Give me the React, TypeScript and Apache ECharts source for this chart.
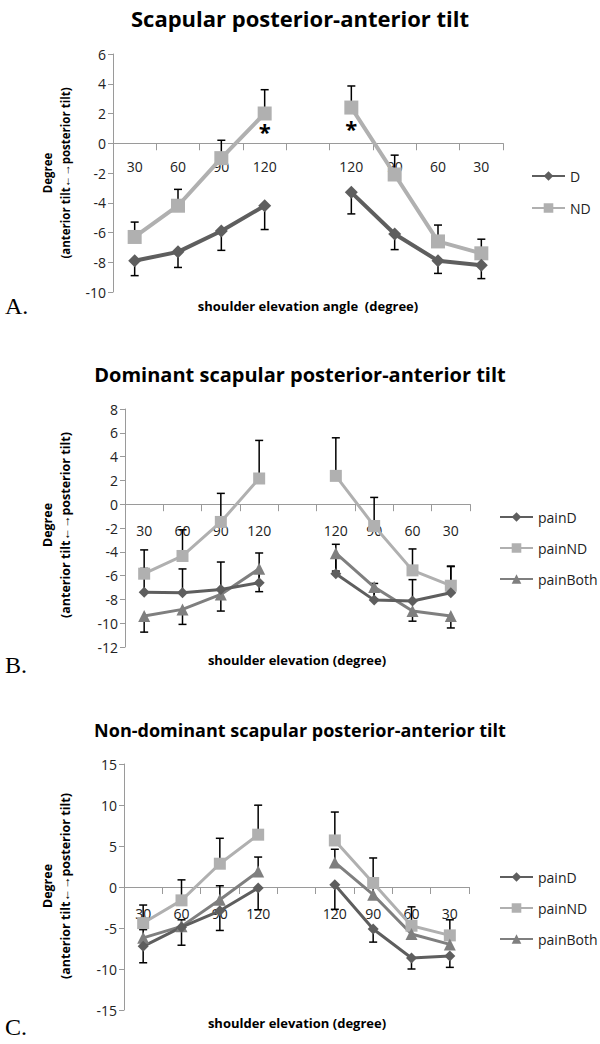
import React, { useEffect, useRef } from "react";
import * as echarts from "echarts";

const categories = ["30", "60", "90", "120", "", "120", "90", "60", "30"];

// Panel A
const aD = [-7.9, -7.3, -5.9, -4.2, null, -3.3, -6.1, -7.9, -8.2];
const aDSd = [1.0, 1.05, 1.3, 1.6, null, 1.45, 1.05, 0.85, 0.9];
const aND = [-6.3, -4.2, -1.0, 2.0, null, 2.4, -2.1, -6.6, -7.4];
const aNDSd = [1.0, 1.1, 1.2, 1.6, null, 1.45, 1.3, 1.1, 0.95];
const asteriskA = [[3, 0.8], [5, 1.0]];

// Panel B
const bD = [-7.4, -7.44, -7.16, -6.6, null, -5.84, -8.06, -8.14, -7.44];
const bDSd = [2.0, 2.0, 2.3, 2.5, null, 2.47, 1.4, 1.8, 2.2];
const bND = [-5.84, -4.35, -1.49, 2.16, null, 2.38, -1.83, -5.56, -6.85];
const bNDSd = [2.0, 2.2, 2.4, 3.2, null, 3.2, 2.4, 1.8, 1.65];
const bBoth = [-9.4, -8.84, -7.58, -5.42, null, -4.12, -6.96, -8.98, -9.4];
const bBothSd = [1.35, 1.26, 1.4, 1.93, null, 1.5, 1.0, 0.85, 1.0];

// Panel C
const cD = [-7.24, -4.9, -2.9, -0.12, null, 0.28, -5.12, -8.66, -8.4];
const cDSd = [2.0, 2.2, 2.4, 2.65, null, 3.0, 1.6, 1.34, 1.4];
const cND = [-4.4, -1.63, 2.84, 6.38, null, 5.68, 0.49, -4.72, -5.9];
const cNDSd = [2.2, 2.5, 3.1, 3.6, null, 3.46, 3.05, 2.3, 1.9];
const cBoth = [-6.2, -4.8, -1.55, 1.9, null, 3.0, -0.94, -5.74, -7.0];
const cBothSd = [1.0, 0.8, 1.7, 1.75, null, 1.6, 1.2, 1.0, 0.9];

const DARK = "#5e5e5e";
const LIGHT = "#b0b0b0";
const MID = "#7f7f7f";
const AXIS = "#9a9a9a";
const FONT = "'Open Sans', sans-serif";
const BOLD = "'Open Sans', sans-serif";

function lineSeries(name: string, data: (number | null)[], gi: number, color: string, symbol: string, size: number, width: number) {
  return {
    type: "line",
    name,
    xAxisIndex: gi,
    yAxisIndex: gi,
    data: data.map((v) => (v == null ? "-" : v)),
    connectNulls: false,
    symbol,
    symbolSize: size,
    showAllSymbol: true,
    lineStyle: { color, width },
    itemStyle: { color },
    z: 3,
  };
}

function errSeries(id: string, data: (number | null)[], sd: (number | null)[], sign: number, gi: number) {
  const pts: number[][] = [];
  data.forEach((v, i) => {
    if (v != null && sd[i] != null) pts.push([i, v, v + sign * (sd[i] as number)]);
  });
  return {
    type: "custom",
    name: id,
    xAxisIndex: gi,
    yAxisIndex: gi,
    data: pts,
    encode: { x: 0, y: [1, 2] },
    z: 2,
    renderItem: (params: any, api: any) => {
      const x = api.value(0);
      const p0 = api.coord([x, api.value(1)]);
      const p1 = api.coord([x, api.value(2)]);
      return {
        type: "group",
        children: [
          { type: "line", shape: { x1: p0[0], y1: p0[1], x2: p1[0], y2: p1[1] }, style: { stroke: "#000", lineWidth: 1.5 } },
          { type: "line", shape: { x1: p1[0] - 4, y1: p1[1], x2: p1[0] + 4, y2: p1[1] }, style: { stroke: "#000", lineWidth: 1.5 } },
        ],
      };
    },
  };
}

export default function App() {
  const ref = useRef<HTMLDivElement>(null);
  useEffect(() => {
    const chart = echarts.init(ref.current!, null, { renderer: "svg" });
    const grids = [
      { left: 113, top: 54, width: 390, height: 238 },
      { left: 125, top: 409, width: 345, height: 238 },
      { left: 124, top: 764, width: 345, height: 246 },
    ];
    const yRanges = [
      { min: -10, max: 6, interval: 2 },
      { min: -12, max: 8, interval: 2 },
      { min: -15, max: 15, interval: 5 },
    ];
    // shift the x axis (line, ticks, labels) up to the zero line
    const zeroOffsets = grids.map((g, i) => {
      const r = yRanges[i];
      return -(g.height * (0 - r.min)) / (r.max - r.min);
    });
    const labelMargins = [16, 19, 19];
    const xAxis = grids.map((g, i) => ({
      type: "category",
      gridIndex: i,
      data: categories,
      boundaryGap: true,
      position: "bottom",
      offset: zeroOffsets[i],
      axisLine: { onZero: false, lineStyle: { color: AXIS, width: 1 } },
      axisTick: { show: true, length: 7, interval: 0, lineStyle: { color: AXIS } },
      axisLabel: { interval: 0, margin: labelMargins[i], fontSize: 14, color: "#222", fontFamily: FONT },
    }));
    const yAxis = grids.map((g, i) => ({
      type: "value",
      gridIndex: i,
      ...yRanges[i],
      axisLine: { show: true, lineStyle: { color: AXIS } },
      axisTick: { show: true, length: 5, lineStyle: { color: AXIS } },
      splitLine: { show: false },
      axisLabel: { fontSize: 14, color: "#222", fontFamily: FONT, margin: 7 },
    }));

    const series: any[] = [
      errSeries("errAD", aD, aDSd, -1, 0),
      errSeries("errAND", aND, aNDSd, 1, 0),
      lineSeries("ND", aND, 0, LIGHT, "rect", 14, 4),
      lineSeries("D", aD, 0, DARK, "diamond", 13, 4),
      {
        type: "custom",
        name: "astA",
        xAxisIndex: 0,
        yAxisIndex: 0,
        data: asteriskA,
        z: 4,
        renderItem: (params: any, api: any) => {
          const p = api.coord([api.value(0), api.value(1)]);
          return {
            type: "text",
            x: p[0],
            y: p[1],
            style: { text: "*", fontSize: 22, fontWeight: "bold", fill: "#000", align: "center", verticalAlign: "middle", fontFamily: FONT },
          };
        },
      },
      errSeries("errBD", bD, bDSd, 1, 1),
      errSeries("errBND", bND, bNDSd, 1, 1),
      errSeries("errBBoth", bBoth, bBothSd, -1, 1),
      lineSeries("painND", bND, 1, LIGHT, "rect", 12, 3),
      lineSeries("painBoth", bBoth, 1, MID, "triangle", 12, 3),
      lineSeries("painD", bD, 1, DARK, "diamond", 11, 3),
      errSeries("errCD", cD, cDSd, -1, 2),
      errSeries("errCND", cND, cNDSd, 1, 2),
      errSeries("errCBoth", cBoth, cBothSd, 1, 2),
      lineSeries("painND", cND, 2, LIGHT, "rect", 12, 3),
      lineSeries("painBoth", cBoth, 2, MID, "triangle", 12, 3),
      lineSeries("painD", cD, 2, DARK, "diamond", 11, 3),
    ];

    const legendCommon = {
      orient: "vertical",
      itemWidth: 33,
      itemHeight: 12,
      textStyle: { fontSize: 14, color: "#222", fontFamily: FONT },
      selectedMode: false,
    };

    const titleText = (text: string, y: number, size: number) => ({
      type: "text",
      x: 300,
      y,
      style: { text, fontSize: size, fontWeight: "bold", fill: "#000", align: "center", verticalAlign: "middle", fontFamily: BOLD },
    });
    const yName = (x: number, y: number, size: number) => ({
      type: "text",
      x,
      y,
      rotation: Math.PI / 2,
      style: {
        text: "Degree\n(anterior tilt\u2190\u2192posterior tilt)",
        fontSize: size,
        lineHeight: 18,
        fontWeight: "bold",
        fill: "#000",
        align: "center",
        verticalAlign: "middle",
        fontFamily: BOLD,
      },
    });
    const xName = (text: string, x: number, y: number) => ({
      type: "text",
      x,
      y,
      style: { text, fontSize: 13, fontWeight: "bold", fill: "#000", align: "center", verticalAlign: "middle", fontFamily: BOLD },
    });
    const letter = (text: string, y: number) => ({
      type: "text",
      x: 5,
      y,
      style: { text, fontSize: 24, fill: "#000", align: "left", verticalAlign: "middle", fontFamily: "'Liberation Serif', 'DejaVu Serif', serif" },
    });

    chart.setOption({
      animation: false,
      backgroundColor: "#fff",
      grid: grids,
      xAxis,
      yAxis,
      series,
      legend: [
        { ...legendCommon, data: ["D", "ND"], left: 526, top: 164, itemGap: 18 },
        { ...legendCommon, data: ["painD", "painND", "painBoth"], left: 494, top: 505, itemGap: 17 },
        { ...legendCommon, data: ["painD", "painND", "painBoth"], left: 494, top: 865, itemGap: 17 },
      ],
      graphic: [
        titleText("Scapular posterior-anterior tilt", 18, 22),
        titleText("Dominant scapular posterior-anterior tilt", 374, 20),
        titleText("Non-dominant scapular posterior-anterior tilt", 730, 18),
        yName(56, 173, 11.5),
        yName(56, 525, 12.5),
        yName(56, 886, 12.5),
        xName("shoulder elevation angle  (degree)", 308, 306),
        xName("shoulder elevation (degree)", 297, 660),
        xName("shoulder elevation (degree)", 297, 1023),
        letter("A.", 306),
        letter("B.", 665),
        letter("C.", 1027),
      ],
    });
    return () => chart.dispose();
  }, []);
  return <div ref={ref} style={{ position: "absolute", left: 0, top: 0, width: 600, height: 1044 }} />;
}
